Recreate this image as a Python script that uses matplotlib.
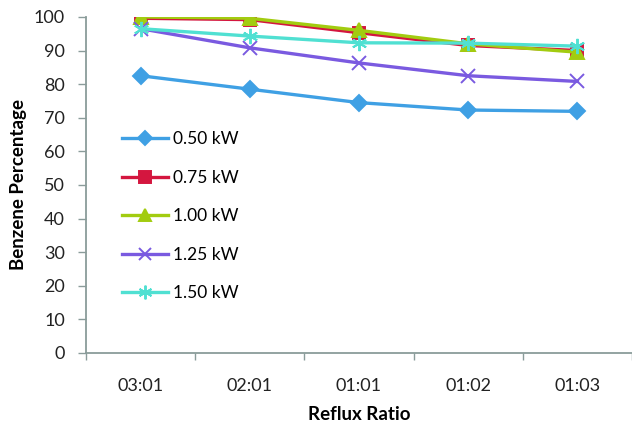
import matplotlib
matplotlib.use("Agg")
import matplotlib.pyplot as plt
import numpy as np

plt.rcParams['font.family'] = ['Lato', 'DejaVu Sans']

ratios = ['03:01', '02:01', '01:01', '01:02', '01:03']
p050 = [82.5, 78.5, 74.5, 72.3, 71.9]
p075 = [99.6, 99.2, 95.3, 91.5, 90.0]
p100 = [100.0, 99.6, 96.0, 92.0, 89.5]
p125 = [96.5, 90.8, 86.3, 82.5, 80.8]
p150 = [96.5, 94.3, 92.3, 92.2, 91.3]

series = [
    ('0.50 kW', p050, '#3FA0E4', 'D', 8),
    ('0.75 kW', p075, '#D4163F', 's', 9),
    ('1.00 kW', p100, '#A2CC10', '^', 10),
    ('1.25 kW', p125, '#7A5AE0', 'x', 10),
    ('1.50 kW', p150, '#50E0D2', (6, 2, 0), 11),
]

fig = plt.figure(figsize=(6.32, 4.23), dpi=100)
ax = fig.add_axes([0.136, 0.1655, 0.864, 0.7945])

x = np.arange(len(ratios))
for label, vals, color, marker, ms in series:
    ax.plot(x, vals, color=color, lw=2.4, marker=marker, markersize=ms,
            markeredgecolor=color, markeredgewidth=1.4, label=label)

ax.set_xlim(-0.5, len(ratios) - 0.5)
ax.set_ylim(0, 100)
ax.set_yticks(np.arange(0, 101, 10))
ax.set_xticks(x)
ax.set_xticklabels(ratios)
ax.set_xticks(np.arange(-0.5, len(ratios) - 0.4, 1), minor=True)

spine_col = '#8A9C9A'
for side in ['top', 'right']:
    ax.spines[side].set_visible(False)
for side in ['left', 'bottom']:
    ax.spines[side].set_color(spine_col)
    ax.spines[side].set_linewidth(1.3)

ax.tick_params(axis='x', which='major', length=0, pad=18, labelsize=13, labelcolor='#222222')
ax.tick_params(axis='x', which='minor', length=5, color=spine_col, width=1)
ax.tick_params(axis='y', length=6, color=spine_col, width=1, labelsize=13,
               labelcolor='#222222', pad=9)

ax.set_xlabel('Reflux Ratio', fontsize=13.5, fontweight='bold', labelpad=9)
ax.set_ylabel('Benzene Percentage', fontsize=13.5, fontweight='bold', labelpad=5)

ax.legend(loc='upper left', bbox_to_anchor=(0.169, 0.727), bbox_transform=fig.transFigure,
          frameon=False, fontsize=12.5, handlelength=2.6, handletextpad=0.3,
          labelspacing=1.3, markerscale=0.9)

plt.savefig('out.png', dpi=100)
